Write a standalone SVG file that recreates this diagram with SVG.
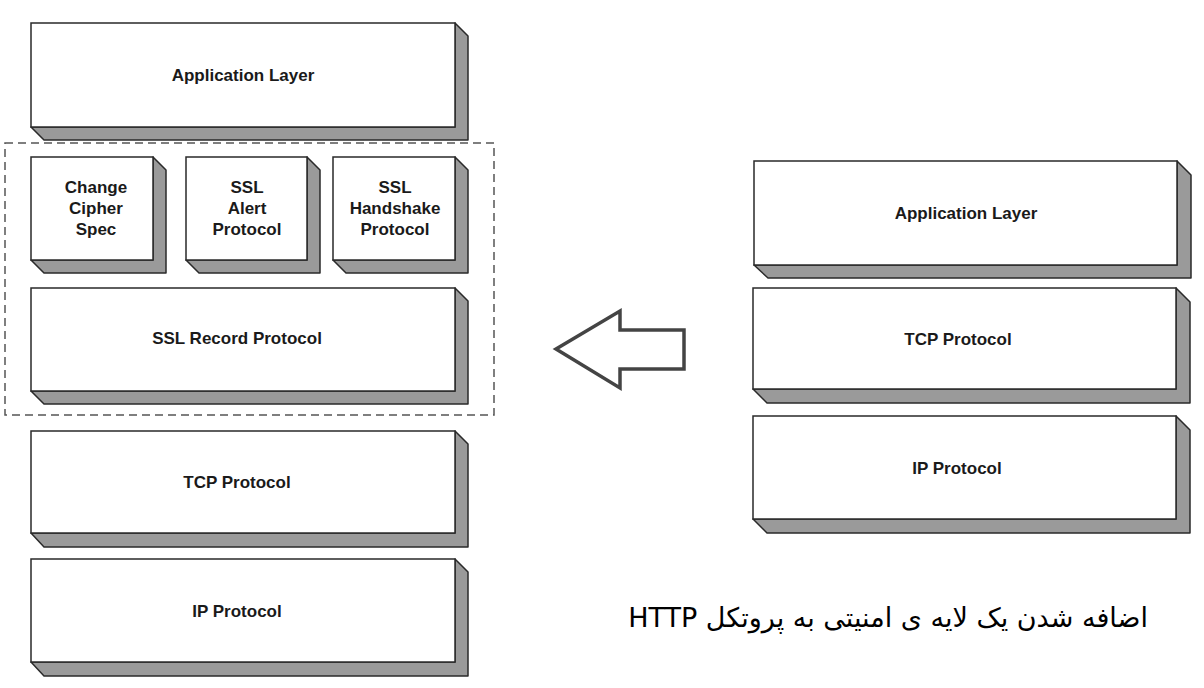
<svg xmlns="http://www.w3.org/2000/svg" width="1204" height="688" viewBox="0 0 1204 688">
<style>
.sh{fill:#9a9a9a;stroke:#2a2a2a;stroke-width:1.5;stroke-linejoin:round}
.fr{fill:#fff;stroke:#2a2a2a;stroke-width:1.5}
.t{font-family:"Liberation Sans",Arial,sans-serif;font-weight:bold;font-size:17px;fill:#1a1a1a;text-anchor:middle}
</style>
<rect width="1204" height="688" fill="#fff"/>
<g id="ssl-boundary"><rect x="5" y="143" width="489" height="272" fill="none" stroke="#555" stroke-width="1.5" stroke-dasharray="8,5"/></g>
<g id="app-left">
<polygon class="sh" points="31,127 455,127 455,23 468,36 468,140 44,140"/>
<rect class="fr" x="31" y="23" width="424" height="104"/>
<text class="t" x="243" y="81">Application Layer</text>
</g>
<g id="ccs">
<polygon class="sh" points="31,260 153,260 153,157 166,170 166,273 44,273"/>
<rect class="fr" x="31" y="157" width="122" height="103"/>
<text class="t" x="96" y="193">Change</text><text class="t" x="96" y="214">Cipher</text><text class="t" x="96" y="235">Spec</text>
</g>
<g id="alert">
<polygon class="sh" points="186,260 307,260 307,157 320,170 320,273 199,273"/>
<rect class="fr" x="186" y="157" width="121" height="103"/>
<text class="t" x="247" y="193">SSL</text><text class="t" x="247" y="214">Alert</text><text class="t" x="247" y="235">Protocol</text>
</g>
<g id="handshake">
<polygon class="sh" points="333,260 455,260 455,157 468,170 468,273 346,273"/>
<rect class="fr" x="333" y="157" width="122" height="103"/>
<text class="t" x="395" y="193">SSL</text><text class="t" x="395" y="214">Handshake</text><text class="t" x="395" y="235">Protocol</text>
</g>
<g id="record">
<polygon class="sh" points="31,391 455,391 455,288 468,301 468,404 44,404"/>
<rect class="fr" x="31" y="288" width="424" height="103"/>
<text class="t" x="237" y="344">SSL Record Protocol</text>
</g>
<g id="tcp-left">
<polygon class="sh" points="31,533 455,533 455,431 468,444 468,547 44,547"/>
<rect class="fr" x="31" y="431" width="424" height="102"/>
<text class="t" x="237" y="488">TCP Protocol</text>
</g>
<g id="ip-left">
<polygon class="sh" points="31,662 455,662 455,559 468,572 468,676 44,676"/>
<rect class="fr" x="31" y="559" width="424" height="103"/>
<text class="t" x="237" y="617">IP Protocol</text>
</g>
<g id="app-right">
<polygon class="sh" points="754,265 1177,265 1177,161 1191,175 1191,278 768,278"/>
<rect class="fr" x="754" y="161" width="423" height="104"/>
<text class="t" x="966" y="219">Application Layer</text>
</g>
<g id="tcp-right">
<polygon class="sh" points="753,389 1176,389 1176,288 1190,302 1190,403 767,403"/>
<rect class="fr" x="753" y="288" width="423" height="101"/>
<text class="t" x="958" y="345">TCP Protocol</text>
</g>
<g id="ip-right">
<polygon class="sh" points="753,519 1176,519 1176,416 1190,430 1190,533 767,533"/>
<rect class="fr" x="753" y="416" width="423" height="103"/>
<text class="t" x="957" y="474">IP Protocol</text>
</g>
<g id="connectors">
<polygon points="556,349 620,311 620,330 684,330 684,369 620,369 620,388" fill="#fff" stroke="#444" stroke-width="3.5" stroke-linejoin="miter"/>
</g>
<g id="caption">
<text x="1148" y="627" direction="rtl" text-anchor="start" font-family="'DejaVu Sans',sans-serif" font-size="27" fill="#000">اضافه شدن یک لایه ی امنیتی به پروتکل HTTP</text>
</g>
</svg>
